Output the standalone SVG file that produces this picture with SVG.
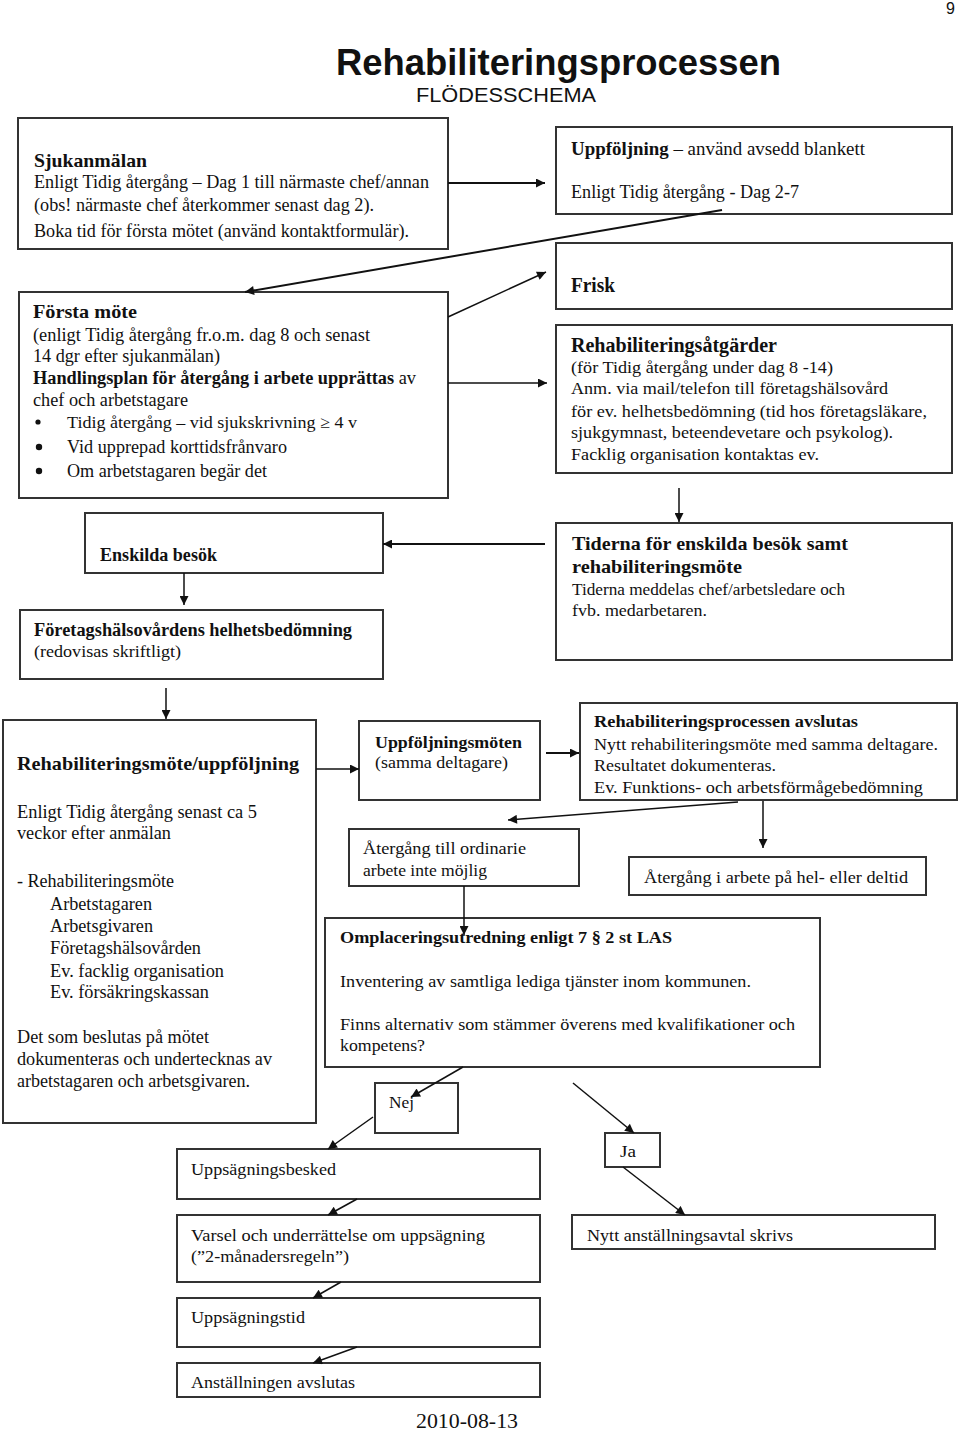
<svg xmlns="http://www.w3.org/2000/svg" width="960" height="1431" viewBox="0 0 960 1431">
<style>
.box{fill:#fff;stroke:#333;stroke-width:2}
text{font-family:"Liberation Serif","Times New Roman",serif;fill:#111}
.b{font-weight:bold}
.c{stroke:#111;stroke-width:1.5;fill:none;marker-end:url(#ah)}
.c2{stroke:#111;stroke-width:2;fill:none;marker-end:url(#ah)}
.sans{font-family:"Liberation Sans",Arial,sans-serif}
</style>
<defs>
<marker id="ah" viewBox="0 0 10 10" refX="10" refY="5" markerWidth="11" markerHeight="9" markerUnits="userSpaceOnUse" orient="auto">
<path d="M0,0 L10,5 L0,10 z" fill="#111"/>
</marker>
</defs>
<rect width="960" height="1431" fill="#fff"/>

<g id="header">
<text class="sans" x="946" y="14" font-size="16">9</text>
<text class="sans b" x="336" y="75" font-size="37" textLength="445" lengthAdjust="spacingAndGlyphs">Rehabiliteringsprocessen</text>
<text class="sans" x="416" y="102" font-size="20" textLength="180" lengthAdjust="spacingAndGlyphs">FLÖDESSCHEMA</text>
</g>

<g id="sjukanmalan">
<rect class="box" x="18" y="118" width="430" height="131"/>
<text class="b" x="34" y="167" font-size="19" textLength="113" lengthAdjust="spacingAndGlyphs">Sjukanmälan</text>
<text x="34" y="188" font-size="18" textLength="395" lengthAdjust="spacingAndGlyphs">Enligt Tidig återgång – Dag 1 till närmaste chef/annan</text>
<text x="34" y="211" font-size="18" textLength="340" lengthAdjust="spacingAndGlyphs">(obs! närmaste chef återkommer senast dag 2).</text>
<text x="34" y="237" font-size="18" textLength="375" lengthAdjust="spacingAndGlyphs">Boka tid för första mötet (använd kontaktformulär).</text>
</g>

<g id="uppfoljning">
<rect class="box" x="556" y="127" width="396" height="87"/>
<text x="571" y="155" font-size="18" textLength="294" lengthAdjust="spacingAndGlyphs"><tspan class="b">Uppföljning</tspan> – använd avsedd blankett</text>
<text x="571" y="198" font-size="18" textLength="228" lengthAdjust="spacingAndGlyphs">Enligt Tidig återgång - Dag 2-7</text>
</g>

<g id="forsta-mote">
<rect class="box" x="19" y="292" width="429" height="206"/>
<text class="b" x="33" y="318" font-size="19" textLength="104" lengthAdjust="spacingAndGlyphs">Första möte</text>
<text x="33" y="341" font-size="18" textLength="337" lengthAdjust="spacingAndGlyphs">(enligt Tidig återgång fr.o.m. dag 8 och senast</text>
<text x="33" y="362" font-size="18" textLength="187" lengthAdjust="spacingAndGlyphs">14 dgr efter sjukanmälan)</text>
<text x="33" y="384" font-size="18" textLength="383" lengthAdjust="spacingAndGlyphs"><tspan class="b">Handlingsplan för återgång i arbete upprättas</tspan> av</text>
<text x="33" y="406" font-size="18" textLength="155" lengthAdjust="spacingAndGlyphs">chef och arbetstagare</text>
<circle cx="38" cy="422" r="2.6" fill="#111"/>
<circle cx="39" cy="447" r="3.2" fill="#111"/>
<circle cx="39" cy="471" r="3.2" fill="#111"/>
<text x="67" y="428" font-size="17" textLength="290" lengthAdjust="spacingAndGlyphs">Tidig återgång – vid sjukskrivning ≥ 4 v</text>
<text x="67" y="453" font-size="18" textLength="220" lengthAdjust="spacingAndGlyphs">Vid upprepad korttidsfrånvaro</text>
<text x="67" y="477" font-size="18" textLength="200" lengthAdjust="spacingAndGlyphs">Om arbetstagaren begär det</text>
</g>

<g id="frisk">
<rect class="box" x="556" y="243" width="396" height="66"/>
<text class="b" x="571" y="292" font-size="20" textLength="44" lengthAdjust="spacingAndGlyphs">Frisk</text>
</g>

<g id="rehabiliteringsatgarder">
<rect class="box" x="556" y="325" width="396" height="148"/>
<text class="b" x="571" y="352" font-size="20" textLength="206" lengthAdjust="spacingAndGlyphs">Rehabiliteringsåtgärder</text>
<text x="571" y="373" font-size="17.5" textLength="262" lengthAdjust="spacingAndGlyphs">(för Tidig återgång under dag 8 -14)</text>
<text x="571" y="394" font-size="17.5" textLength="317" lengthAdjust="spacingAndGlyphs">Anm. via mail/telefon till företagshälsovård</text>
<text x="571" y="417" font-size="17.5" textLength="356" lengthAdjust="spacingAndGlyphs">för ev. helhetsbedömning (tid hos företagsläkare,</text>
<text x="571" y="438" font-size="17.5" textLength="322" lengthAdjust="spacingAndGlyphs">sjukgymnast, beteendevetare och psykolog).</text>
<text x="571" y="460" font-size="17.5" textLength="248" lengthAdjust="spacingAndGlyphs">Facklig organisation kontaktas ev.</text>
</g>

<g id="enskilda-besok">
<rect class="box" x="85" y="513" width="298" height="60"/>
<text class="b" x="100" y="561" font-size="18" textLength="117" lengthAdjust="spacingAndGlyphs">Enskilda besök</text>
</g>

<g id="tiderna">
<rect class="box" x="556" y="523" width="396" height="137"/>
<text class="b" x="572" y="550" font-size="19" textLength="276" lengthAdjust="spacingAndGlyphs">Tiderna för enskilda besök samt</text>
<text class="b" x="572" y="573" font-size="19" textLength="170" lengthAdjust="spacingAndGlyphs">rehabiliteringsmöte</text>
<text x="572" y="595" font-size="17" textLength="273" lengthAdjust="spacingAndGlyphs">Tiderna meddelas chef/arbetsledare och</text>
<text x="572" y="616" font-size="17" textLength="135" lengthAdjust="spacingAndGlyphs">fvb. medarbetaren.</text>
</g>

<g id="foretagshalsovard">
<rect class="box" x="20" y="610" width="363" height="69"/>
<text class="b" x="34" y="636" font-size="18" textLength="318" lengthAdjust="spacingAndGlyphs">Företagshälsovårdens helhetsbedömning</text>
<text x="34" y="657" font-size="17" textLength="147" lengthAdjust="spacingAndGlyphs">(redovisas skriftligt)</text>
</g>

<g id="rehabiliteringsmote">
<rect class="box" x="3" y="720" width="313" height="403"/>
<text class="b" x="17" y="770" font-size="19.5" textLength="282" lengthAdjust="spacingAndGlyphs">Rehabiliteringsmöte/uppföljning</text>
<text x="17" y="818" font-size="18" textLength="240" lengthAdjust="spacingAndGlyphs">Enligt Tidig återgång senast ca 5</text>
<text x="17" y="839" font-size="18" textLength="154" lengthAdjust="spacingAndGlyphs">veckor efter anmälan</text>
<text x="17" y="887" font-size="18" textLength="157" lengthAdjust="spacingAndGlyphs">- Rehabiliteringsmöte</text>
<text x="50" y="910" font-size="18" textLength="102" lengthAdjust="spacingAndGlyphs">Arbetstagaren</text>
<text x="50" y="932" font-size="18" textLength="103" lengthAdjust="spacingAndGlyphs">Arbetsgivaren</text>
<text x="50" y="954" font-size="18" textLength="151" lengthAdjust="spacingAndGlyphs">Företagshälsovården</text>
<text x="50" y="977" font-size="18" textLength="174" lengthAdjust="spacingAndGlyphs">Ev. facklig organisation</text>
<text x="50" y="998" font-size="18" textLength="159" lengthAdjust="spacingAndGlyphs">Ev. försäkringskassan</text>
<text x="17" y="1043" font-size="18" textLength="192" lengthAdjust="spacingAndGlyphs">Det som beslutas på mötet</text>
<text x="17" y="1065" font-size="18" textLength="255" lengthAdjust="spacingAndGlyphs">dokumenteras och undertecknas av</text>
<text x="17" y="1087" font-size="18" textLength="233" lengthAdjust="spacingAndGlyphs">arbetstagaren och arbetsgivaren.</text>
</g>

<g id="uppfoljningsmoten">
<rect class="box" x="359" y="721" width="181" height="79"/>
<text class="b" x="375" y="748" font-size="17" textLength="147" lengthAdjust="spacingAndGlyphs">Uppföljningsmöten</text>
<text x="375" y="768" font-size="17" textLength="133" lengthAdjust="spacingAndGlyphs">(samma deltagare)</text>
</g>

<g id="avslutas">
<rect class="box" x="580" y="703" width="377" height="97"/>
<text class="b" x="594" y="727" font-size="17" textLength="264" lengthAdjust="spacingAndGlyphs">Rehabiliteringsprocessen avslutas</text>
<text x="594" y="750" font-size="17" textLength="344" lengthAdjust="spacingAndGlyphs">Nytt rehabiliteringsmöte med samma deltagare.</text>
<text x="594" y="771" font-size="17" textLength="182" lengthAdjust="spacingAndGlyphs">Resultatet dokumenteras.</text>
<text x="594" y="793" font-size="17" textLength="329" lengthAdjust="spacingAndGlyphs">Ev. Funktions- och arbetsförmågebedömning</text>
</g>

<g id="atergang-ordinarie">
<rect class="box" x="349" y="829" width="230" height="57"/>
<text x="363" y="854" font-size="17" textLength="163" lengthAdjust="spacingAndGlyphs">Återgång till ordinarie</text>
<text x="363" y="876" font-size="17" textLength="124" lengthAdjust="spacingAndGlyphs">arbete inte möjlig</text>
</g>

<g id="atergang-hel">
<rect class="box" x="629" y="857" width="297" height="38"/>
<text x="644" y="883" font-size="17" textLength="264" lengthAdjust="spacingAndGlyphs">Återgång i arbete på hel- eller deltid</text>
</g>

<g id="omplacering">
<rect class="box" x="325" y="918" width="495" height="149"/>
<text class="b" x="340" y="943" font-size="17" textLength="332" lengthAdjust="spacingAndGlyphs">Omplaceringsutredning enligt 7 § 2 st LAS</text>
<text x="340" y="987" font-size="17" textLength="411" lengthAdjust="spacingAndGlyphs">Inventering av samtliga lediga tjänster inom kommunen.</text>
<text x="340" y="1030" font-size="17" textLength="455" lengthAdjust="spacingAndGlyphs">Finns alternativ som stämmer överens med kvalifikationer och</text>
<text x="340" y="1051" font-size="17" textLength="85" lengthAdjust="spacingAndGlyphs">kompetens?</text>
</g>

<g id="nej">
<rect class="box" x="375" y="1083" width="83" height="50"/>
<text x="389" y="1108" font-size="17" textLength="25" lengthAdjust="spacingAndGlyphs">Nej</text>
</g>

<g id="ja">
<rect class="box" x="605" y="1133" width="55" height="34"/>
<text x="620" y="1157" font-size="17" textLength="16" lengthAdjust="spacingAndGlyphs">Ja</text>
</g>

<g id="uppsagningsbesked">
<rect class="box" x="177" y="1149" width="363" height="50"/>
<text x="191" y="1175" font-size="17" textLength="145" lengthAdjust="spacingAndGlyphs">Uppsägningsbesked</text>
</g>

<g id="varsel">
<rect class="box" x="177" y="1215" width="363" height="67"/>
<text x="191" y="1241" font-size="17" textLength="294" lengthAdjust="spacingAndGlyphs">Varsel och underrättelse om uppsägning</text>
<text x="191" y="1262" font-size="17" textLength="158" lengthAdjust="spacingAndGlyphs">(”2-månadersregeln”)</text>
</g>

<g id="uppsagningstid">
<rect class="box" x="177" y="1298" width="363" height="49"/>
<text x="191" y="1323" font-size="17" textLength="114" lengthAdjust="spacingAndGlyphs">Uppsägningstid</text>
</g>

<g id="anstallningen-avslutas">
<rect class="box" x="177" y="1363" width="363" height="34"/>
<text x="191" y="1388" font-size="17" textLength="164" lengthAdjust="spacingAndGlyphs">Anställningen avslutas</text>
</g>

<g id="nytt-anstallningsavtal">
<rect class="box" x="572" y="1215" width="363" height="34"/>
<text x="587" y="1241" font-size="17" textLength="206" lengthAdjust="spacingAndGlyphs">Nytt anställningsavtal skrivs</text>
</g>

<g id="footer">
<text x="416" y="1428" font-size="20" textLength="102" lengthAdjust="spacingAndGlyphs">2010-08-13</text>
</g>

<g id="connectors">
<line class="c2" x1="448" y1="183" x2="545" y2="183"/>
<line class="c2" x1="722" y1="210" x2="245" y2="292"/>
<line class="c" x1="448" y1="317" x2="546" y2="272"/>
<line class="c" x1="448" y1="383" x2="547" y2="383"/>
<line class="c" x1="679" y1="488" x2="679" y2="522"/>
<line class="c2" x1="545" y1="544" x2="383" y2="544"/>
<line class="c" x1="184" y1="573" x2="184" y2="605"/>
<line class="c" x1="166" y1="688" x2="166" y2="719"/>
<line class="c" x1="316" y1="769" x2="359" y2="769"/>
<line class="c2" x1="546" y1="753" x2="579" y2="753"/>
<line class="c" x1="738" y1="802" x2="508" y2="820"/>
<line class="c" x1="763" y1="801" x2="763" y2="848"/>
<line class="c" x1="464" y1="886" x2="464" y2="935"/>
<line class="c" x1="463" y1="1067" x2="411" y2="1097"/>
<line class="c" x1="573" y1="1083" x2="634" y2="1133"/>
<line class="c" x1="373" y1="1117" x2="328" y2="1149"/>
<line class="c" x1="357" y1="1199" x2="328" y2="1215"/>
<line class="c" x1="341" y1="1282" x2="313" y2="1298"/>
<line class="c" x1="357" y1="1347" x2="313" y2="1363"/>
<line class="c" x1="623" y1="1167" x2="685" y2="1215"/>
</g>
</svg>
